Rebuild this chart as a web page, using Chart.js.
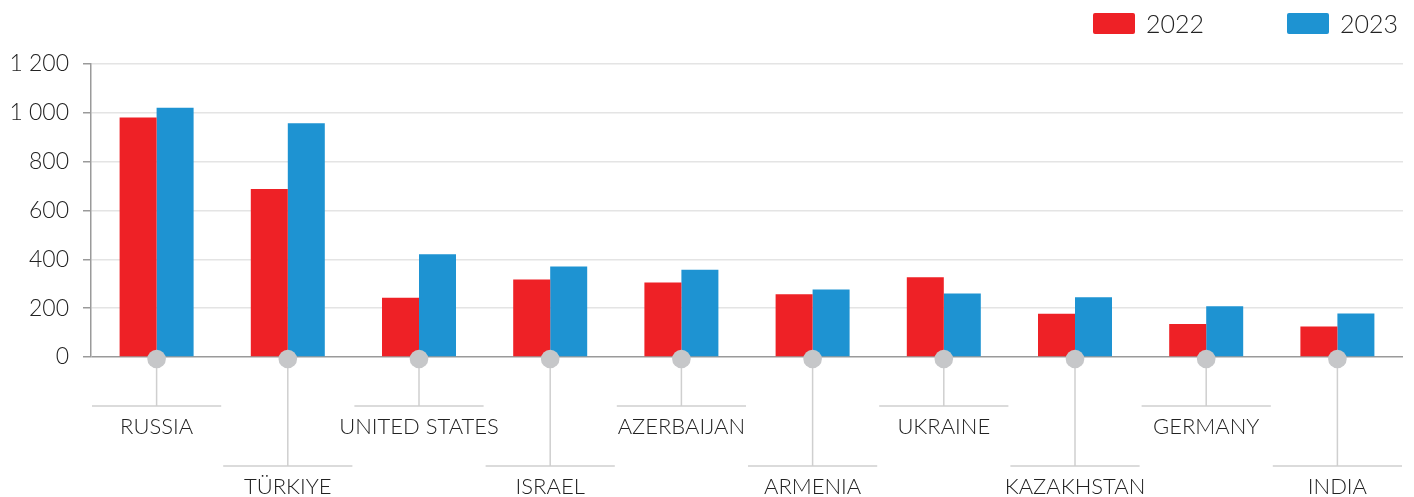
<!DOCTYPE html>
<html>
<head>
<meta charset="utf-8">
<script src="https://cdn.jsdelivr.net/npm/chart.js@4.4.1/dist/chart.umd.min.js"></script>
<style>
  body { margin: 0; background: #fff; }
  #wrap { width: 1414px; height: 497px; position: relative; }
</style>
</head>
<body>
<div id="wrap"><canvas id="chart"></canvas></div>
<script>
const categories = ['RUSSIA', 'TÜRKIYE', 'UNITED STATES', 'ISRAEL', 'AZERBAIJAN', 'ARMENIA', 'UKRAINE', 'KAZAKHSTAN', 'GERMANY', 'INDIA'];
const values2022 = [981, 688, 243, 317, 305, 257, 327, 177, 135, 125];
const values2023 = [1021, 957, 421, 371, 357, 276, 260, 245, 208, 178];
const seriesNames = ['2022', '2023'];
const yTicks = [0, 200, 400, 600, 800, 1000, 1200];

const RED = '#ee2126';
const BLUE = '#1e93d2';
const FONT = 'Lato, "Open Sans", sans-serif';

// leader lines, dots, alternating labels and the legend
const decorPlugin = {
    id: 'decor',
    afterDatasetsDraw(chart) {
        const ctx = chart.ctx;
        const xs = chart.scales.x;
        const ys = chart.scales.y;
        const y0 = ys.getPixelForValue(0);
        const step = xs.width / categories.length;
        ctx.save();
        categories.forEach((name, i) => {
            const cx = xs.getPixelForValue(i);
            const low = i % 2 === 1;
            const lineY = y0 + (low ? 109 : 49);
            const textY = y0 + (low ? 130 : 70);
            ctx.strokeStyle = '#cfcfcf';
            ctx.lineWidth = 1.5;
            ctx.beginPath();
            ctx.moveTo(cx, y0);
            ctx.lineTo(cx, lineY);
            ctx.moveTo(cx - step / 2 + 1, lineY);
            ctx.lineTo(cx + step / 2 - 1, lineY);
            ctx.stroke();

            ctx.fillStyle = '#c6c7c9';
            ctx.beginPath();
            ctx.arc(cx, y0 + 2, 9.3, 0, Math.PI * 2);
            ctx.fill();

            ctx.fillStyle = '#222';
            ctx.font = '300 22px ' + FONT;
            ctx.textAlign = 'center';
            ctx.textBaseline = 'middle';
            ctx.fillText(name, cx, textY);
        });

        // legend, right aligned
        ctx.font = '300 25px ' + FONT;
        ctx.textAlign = 'left';
        ctx.textBaseline = 'middle';
        let x = chart.width - 16;
        for (let d = chart.data.datasets.length - 1; d >= 0; d--) {
            const ds = chart.data.datasets[d];
            const tw = ctx.measureText(ds.label).width;
            const tx = x - tw;
            const bx = tx - 11 - 42;
            ctx.fillStyle = ds.backgroundColor;
            ctx.beginPath();
            ctx.roundRect(bx, 13, 42, 21, 2);
            ctx.fill();
            ctx.fillStyle = '#222';
            ctx.fillText(ds.label, tx, 25);
            x = bx - 83;
        }
        ctx.restore();
    }
};

new Chart(document.getElementById('chart'), {
    type: 'bar',
    data: {
        labels: categories,
        datasets: [
            { label: seriesNames[0], data: values2022, backgroundColor: RED, borderWidth: 0 },
            { label: seriesNames[1], data: values2023, backgroundColor: BLUE, borderWidth: 0 }
        ]
    },
    options: {
        responsive: true,
        maintainAspectRatio: false,
        animation: false,
        categoryPercentage: 0.564,
        barPercentage: 1.0,
        layout: { padding: { top: 64, right: 11, left: 0, bottom: 0 } },
        plugins: {
            legend: { display: false },
            tooltip: { enabled: false }
        },
        scales: {
            x: {
                grid: { display: false },
                border: { display: false },
                ticks: { display: false },
                afterFit(scale) { scale.height = 140; }
            },
            y: {
                min: yTicks[0],
                max: yTicks[yTicks.length - 1],
                afterBuildTicks(scale) { scale.ticks = yTicks.map(v => ({ value: v })); },
                ticks: {
                    padding: 14,
                    color: '#222',
                    font: { family: FONT, size: 23, weight: 300 },
                    callback: v => String(v).replace(/\B(?=(\d{3})+(?!\d))/g, ' ')
                },
                grid: {
                    color: c => c.tick && c.tick.value === 0 ? '#9a9a9a' : '#e4e4e4',
                    lineWidth: 1.5,
                    tickLength: 8,
                    tickColor: '#9a9a9a'
                },
                border: { color: '#9a9a9a', width: 1.5 },
                afterFit(scale) { scale.width = 91; }
            }
        }
    },
    plugins: [decorPlugin]
});
</script>
</body>
</html>
